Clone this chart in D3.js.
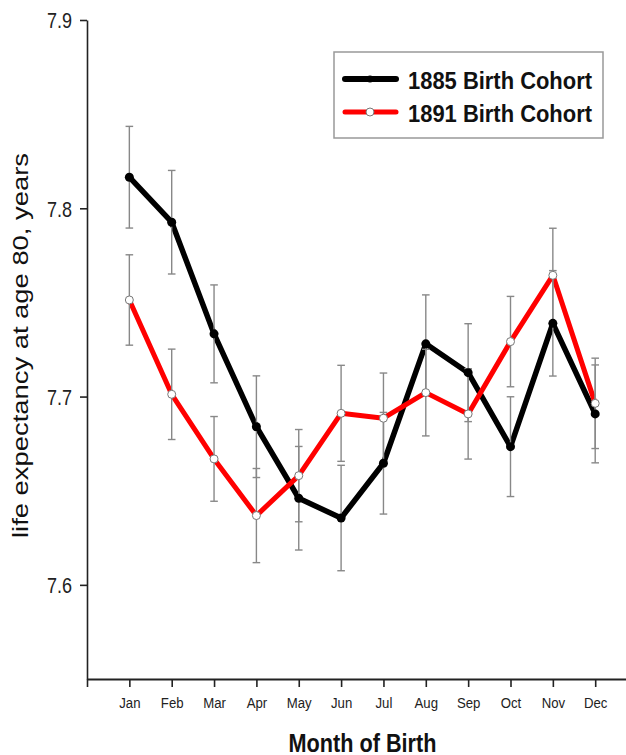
<!DOCTYPE html>
<html>
<head>
  <meta charset="utf-8">
  <script src="https://cdn.jsdelivr.net/npm/d3@7"></script>
  <style>
    body { margin: 0; background: #fff; font-family: "Liberation Sans", Arial, sans-serif; }
  </style>
</head>
<body>
  <main id="container"></main>
  <script>
    // data
    const months = ["Jan", "Feb", "Mar", "Apr", "May", "Jun", "Jul", "Aug", "Sep", "Oct", "Nov", "Dec"];
    const cohort1885 = [7.8165, 7.7926, 7.7333, 7.684, 7.646, 7.6355, 7.6646, 7.728, 7.7127, 7.6734, 7.7389, 7.6908];
    const err1885 = [0.027, 0.0275, 0.026, 0.027, 0.0275, 0.028, 0.027, 0.026, 0.026, 0.0265, 0.028, 0.026];
    const cohort1891 = [7.7513, 7.7012, 7.6669, 7.6368, 7.658, 7.6911, 7.6885, 7.7021, 7.6908, 7.7292, 7.7644, 7.6964];
    const err1891 = [0.024, 0.024, 0.0225, 0.025, 0.0245, 0.0255, 0.024, 0.023, 0.024, 0.024, 0.025, 0.024];
    const yTicks = [7.6, 7.7, 7.8, 7.9];
    const seriesNames = ["1885 Birth Cohort", "1891 Birth Cohort"];

    const width = 626;
    const height = 755;

    const svg = d3.select("#container")
      .append("svg")
      .attr("width", width)
      .attr("height", height);

    // scales: month index 1..12 sits on a 0..13 axis
    const x = d3.scaleLinear().domain([0, 13]).range([87, 87 + 13 * 42.35]);
    const y = d3.scaleLinear().domain([7.55, 7.9]).range([679, 20]);

    // y axis
    const axisY = svg.append("g")
      .attr("transform", "translate(87,0)")
      .call(d3.axisLeft(y).tickValues(yTicks).tickFormat(d3.format(".1f")).tickSize(7).tickSizeOuter(0));
    axisY.select(".domain").attr("stroke", "#222").attr("stroke-width", 1.6);
    axisY.selectAll(".tick line").attr("stroke", "#222").attr("stroke-width", 1.6);
    axisY.selectAll(".tick text")
      .attr("x", -18.3)
      .attr("dy", "0.36em")
      .attr("transform", "scale(0.82,1)")
      .style("font-family", "Liberation Sans, Arial, sans-serif")
      .style("font-size", "22px")
      .attr("fill", "#222");

    // x axis
    const axisX = svg.append("g")
      .attr("transform", "translate(0,679)")
      .call(d3.axisBottom(x)
        .tickValues(d3.range(0, 13))
        .tickFormat(i => i === 0 ? "" : months[i - 1])
        .tickSize(8).tickSizeOuter(0));
    axisX.select(".domain").attr("stroke", "#222").attr("stroke-width", 2);
    axisX.selectAll(".tick line").attr("stroke", "#222").attr("stroke-width", 1.6);
    axisX.selectAll(".tick text")
      .attr("y", 29)
      .attr("dy", 0)
      .attr("transform", "scale(0.88,1)")
      .style("font-family", "Liberation Sans, Arial, sans-serif")
      .style("font-size", "15px")
      .attr("fill", "#222");

    // axis titles
    svg.append("text")
      .attr("x", 362.5)
      .attr("y", 751.5)
      .attr("text-anchor", "middle")
      .attr("textLength", 148)
      .attr("lengthAdjust", "spacingAndGlyphs")
      .style("font-size", "25px")
      .style("font-weight", "bold")
      .attr("fill", "#111")
      .text("Month of Birth");

    svg.append("text")
      .attr("transform", "translate(27.7,345.5) rotate(-90)")
      .attr("text-anchor", "middle")
      .attr("textLength", 385)
      .attr("lengthAdjust", "spacingAndGlyphs")
      .style("font-size", "22px")
      .attr("fill", "#111")
      .text("life expectancy at age 80, years");

    // lines
    const line = d3.line()
      .x((d, i) => x(i + 1))
      .y(d => y(d));

    svg.append("path")
      .datum(cohort1885)
      .attr("d", line)
      .attr("fill", "none")
      .attr("stroke", "#000")
      .attr("stroke-width", 5.5)
      .attr("stroke-linejoin", "round");

    svg.append("path")
      .datum(cohort1891)
      .attr("d", line)
      .attr("fill", "none")
      .attr("stroke", "#ff0000")
      .attr("stroke-width", 5)
      .attr("stroke-linejoin", "round");

    // error bars
    const bars = [];
    cohort1885.forEach((v, i) => bars.push({ i, v, e: err1885[i] }));
    cohort1891.forEach((v, i) => bars.push({ i, v, e: err1891[i] }));

    const errG = svg.append("g")
      .attr("stroke", "#888")
      .attr("stroke-width", 1.4);

    errG.selectAll("line.v")
      .data(bars)
      .join("line")
      .attr("class", "v")
      .attr("x1", d => x(d.i + 1))
      .attr("x2", d => x(d.i + 1))
      .attr("y1", d => y(d.v + d.e))
      .attr("y2", d => y(d.v - d.e));

    errG.selectAll("line.top")
      .data(bars)
      .join("line")
      .attr("class", "top")
      .attr("x1", d => x(d.i + 1) - 3.8)
      .attr("x2", d => x(d.i + 1) + 3.8)
      .attr("y1", d => y(d.v + d.e))
      .attr("y2", d => y(d.v + d.e));

    errG.selectAll("line.bot")
      .data(bars)
      .join("line")
      .attr("class", "bot")
      .attr("x1", d => x(d.i + 1) - 3.8)
      .attr("x2", d => x(d.i + 1) + 3.8)
      .attr("y1", d => y(d.v - d.e))
      .attr("y2", d => y(d.v - d.e));

    // markers
    svg.append("g")
      .selectAll("circle")
      .data(cohort1885)
      .join("circle")
      .attr("cx", (d, i) => x(i + 1))
      .attr("cy", d => y(d))
      .attr("r", 4.5)
      .attr("fill", "#000");

    svg.append("g")
      .selectAll("circle")
      .data(cohort1891)
      .join("circle")
      .attr("cx", (d, i) => x(i + 1))
      .attr("cy", d => y(d))
      .attr("r", 4)
      .attr("fill", "#fff")
      .attr("stroke", "#777")
      .attr("stroke-width", 1);

    // legend
    const legend = svg.append("g");
    legend.append("rect")
      .attr("x", 334)
      .attr("y", 52)
      .attr("width", 269)
      .attr("height", 86)
      .attr("fill", "#fff")
      .attr("stroke", "#999")
      .attr("stroke-width", 1.5);

    const legendRows = [
      { name: seriesNames[0], y: 79, color: "#000", w: 6, fill: "#000", stroke: "none", r: 3.5 },
      { name: seriesNames[1], y: 112, color: "#ff0000", w: 5, fill: "#fff", stroke: "#777", r: 4 }
    ];

    legendRows.forEach(row => {
      legend.append("line")
        .attr("x1", 345)
        .attr("x2", 396)
        .attr("y1", row.y)
        .attr("y2", row.y)
        .attr("stroke", row.color)
        .attr("stroke-width", row.w)
        .attr("stroke-linecap", "round");
      legend.append("circle")
        .attr("cx", 370)
        .attr("cy", row.y)
        .attr("r", row.r)
        .attr("fill", row.fill)
        .attr("stroke", row.stroke);
      legend.append("text")
        .attr("x", 408)
        .attr("y", row.y + 10)
        .attr("textLength", 184)
        .attr("lengthAdjust", "spacingAndGlyphs")
        .style("font-size", "24px")
        .style("font-weight", "bold")
        .attr("fill", "#111")
        .text(row.name);
    });
  </script>
</body>
</html>
